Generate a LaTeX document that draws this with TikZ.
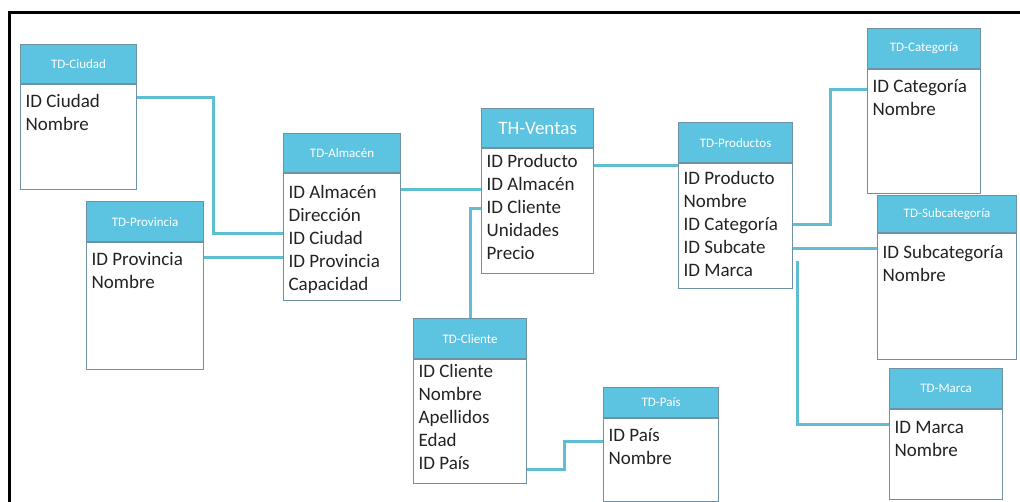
\documentclass[tikz,border=0pt]{standalone}
\usepackage{fontspec}
\setmainfont{Carlito}
\usetikzlibrary{positioning}
\definecolor{celeste}{RGB}{92,195,225}
\definecolor{borde}{RGB}{110,145,165}
\definecolor{enlace}{RGB}{95,190,210}
\definecolor{tinta}{RGB}{35,35,35}
\newcommand{\campos}[4][23pt]{\parbox[t][#2][t]{#3}{\raggedright\leftskip=5pt\rule{0pt}{#1}#4}}

\begin{document}
\begin{tikzpicture}[x=1pt, y=-1pt, node distance=0pt,
  cab/.style={draw=borde, line width=1.2pt, fill=celeste, text=white, inner sep=0pt, anchor=north west, font=\fontsize{13}{15}\selectfont},
  cuerpo/.style={draw=borde, line width=1.2pt, fill=white, text=tinta, inner sep=0pt, font=\fontsize{19}{23}\selectfont},
  rel/.style={draw=enlace, line width=3pt}]
  \useasboundingbox (0,0) rectangle (1020,502);
  \draw[line width=3pt] (1025,13) -- (9,13) -- (9,510);

  % tablas de dimensiones y de hechos
  \node[cab, minimum width=116pt, minimum height=39pt] (hciudad) at (20,44) {TD-Ciudad};
  \node[cuerpo, below=of hciudad] (bciudad) {\campos{105pt}{116pt}{ID Ciudad\\Nombre}};
  \node[cab, minimum width=117pt, minimum height=40pt] (hprovincia) at (86,201) {TD-Provincia};
  \node[cuerpo, below=of hprovincia] (bprovincia) {\campos{127pt}{117pt}{ID Provincia\\Nombre}};
  \node[cab, minimum width=117pt, minimum height=39pt] (halmacen) at (283,133) {TD-Almacén};
  \node[cuerpo, below=of halmacen] (balmacen) {\campos[25pt]{127pt}{117pt}{ID Almacén\\Dirección\\ID Ciudad\\ID Provincia\\Capacidad}};
  \node[cab, minimum width=112pt, minimum height=39pt, font=\fontsize{19}{23}\selectfont] (hventas) at (481,108) {TH-Ventas};
  \node[cuerpo, below=of hventas] (bventas) {\campos[19pt]{125pt}{112pt}{ID Producto\\ID Almacén\\ID Cliente\\Unidades\\Precio}};
  \node[cab, minimum width=114pt, minimum height=40pt] (hproductos) at (678,122) {TD-Productos};
  \node[cuerpo, below=of hproductos] (bproductos) {\campos[21pt]{125pt}{114pt}{ID Producto\\Nombre\\ID Categoría\\ID Subcate\\ID Marca}};
  \node[cab, minimum width=113pt, minimum height=40pt] (hcategoria) at (867,28) {TD-Categoría};
  \node[cuerpo, below=of hcategoria] (bcategoria) {\campos{124pt}{113pt}{ID Categoría\\Nombre}};
  \node[cab, minimum width=139pt, minimum height=37pt] (hsubcategoria) at (877,195) {TD-Subcategoría};
  \node[cuerpo, below=of hsubcategoria] (bsubcategoria) {\campos[25pt]{126pt}{139pt}{ID Subcategoría\\Nombre}};
  \node[cab, minimum width=113pt, minimum height=40pt] (hmarca) at (889,368) {TD-Marca};
  \node[cuerpo, below=of hmarca] (bmarca) {\campos[24pt]{90pt}{113pt}{ID Marca\\Nombre}};
  \node[cab, minimum width=113pt, minimum height=40pt] (hcliente) at (413,318) {TD-Cliente};
  \node[cuerpo, below=of hcliente] (bcliente) {\campos[18pt]{124pt}{113pt}{ID Cliente\\Nombre\\Apellidos\\Edad\\ID País}};
  \node[cab, minimum width=115pt, minimum height=30pt] (hpais) at (603,387) {TD-País};
  \node[cuerpo, below=of hpais] (bpais) {\campos{83pt}{115pt}{ID País\\Nombre}};

  % relaciones
  \draw[rel] ([yshift=-13pt]bciudad.north east) -- ++(76,0) |- ([yshift=-60pt]balmacen.north west);
  \draw[rel] ([yshift=-15pt]bprovincia.north east) -- ([yshift=-84pt]balmacen.north west);
  \draw[rel] ([yshift=-16pt]balmacen.north east) -- ([yshift=-41pt]bventas.north west);
  \draw[rel] ([yshift=-17pt]bventas.north east) -- ([yshift=-2pt]bproductos.north west);
  \draw[rel] ([yshift=-60pt]bventas.north west) -| (hcliente.north);
  \draw[rel] ([yshift=-110pt]bcliente.north east) -- ++(37,0) |- ([yshift=-23pt]bpais.north west);
  \draw[rel] ([yshift=-61pt]bproductos.north east) -- ++(37,0) |- ([yshift=-20pt]bcategoria.north west);
  \draw[rel] ([yshift=-85pt]bproductos.north east) -- ([yshift=-15pt]bsubcategoria.north west);
  \draw[rel] ([xshift=4pt, yshift=-98pt]bproductos.north east) |- ([yshift=-15pt]bmarca.north west);
\end{tikzpicture}
\end{document}
